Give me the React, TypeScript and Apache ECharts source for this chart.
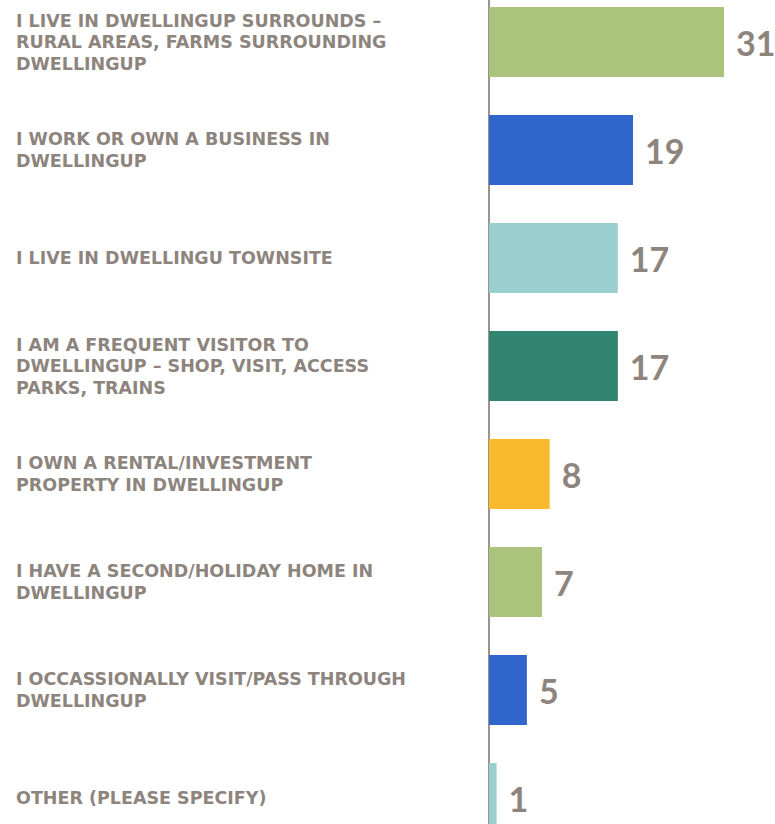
import React, { useEffect, useRef } from "react";
import * as echarts from "echarts";

const categories: string[] = [
  "I LIVE IN DWELLINGUP SURROUNDS –\nRURAL AREAS, FARMS SURROUNDING\nDWELLINGUP",
  "I WORK OR OWN A BUSINESS IN\nDWELLINGUP",
  "I LIVE IN DWELLINGU TOWNSITE",
  "I AM A FREQUENT VISITOR TO\nDWELLINGUP – SHOP, VISIT, ACCESS\nPARKS, TRAINS",
  "I OWN A RENTAL/INVESTMENT\nPROPERTY IN DWELLINGUP",
  "I HAVE A SECOND/HOLIDAY HOME IN\nDWELLINGUP",
  "I OCCASSIONALLY VISIT/PASS THROUGH\nDWELLINGUP",
  "OTHER (PLEASE SPECIFY)",
];
const values: number[] = [31, 19, 17, 17, 8, 7, 5, 1];
const barColors: string[] = [
  "#aac47e",
  "#3066cc",
  "#9bcfcf",
  "#318470",
  "#fbba2e",
  "#aac47e",
  "#3066cc",
  "#9bcfcf",
];

const TEXT = "#8d847e";

export default function App() {
  const ref = useRef<HTMLDivElement>(null);
  useEffect(() => {
    if (!ref.current) return;
    const chart = echarts.init(ref.current, null, { renderer: "svg" });
    chart.setOption({
      animation: false,
      grid: {
        left: 489,
        top: -12,
        width: 235,
        height: 864,
        containLabel: false,
        outerBoundsMode: "none",
      },
      xAxis: {
        type: "value",
        min: 0,
        max: 31,
        show: false,
      },
      yAxis: {
        type: "category",
        inverse: true,
        data: categories,
        offset: 1,
        axisLine: { show: true, lineStyle: { color: "#9d938b", width: 2 } },
        axisTick: { show: false },
        axisLabel: {
          align: "left",
          margin: 472,
          color: TEXT,
          fontFamily: "DejaVu Sans",
          fontWeight: "bold",
          fontSize: 17.5,
          lineHeight: 21.5,
        },
      },
      series: [
        {
          type: "bar",
          data: values.map((v, i) => ({ value: v, itemStyle: { color: barColors[i] } })),
          barWidth: 70,
          label: {
            show: true,
            position: "right",
            distance: 12,
            color: TEXT,
            fontFamily: "Lato",
            fontWeight: "bold",
            fontSize: 34,
          },
        },
      ],
    });
    return () => chart.dispose();
  }, []);
  return (
    <div
      ref={ref}
      style={{ position: "fixed", left: 0, top: 0, width: 775, height: 824, background: "#fff" }}
    />
  );
}
